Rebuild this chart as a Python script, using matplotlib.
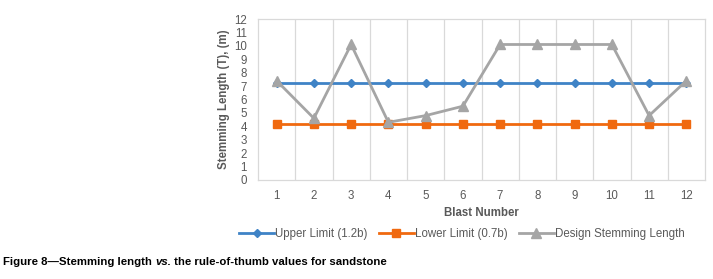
import matplotlib.pyplot as plt

plt.rcParams['font.family'] = ['Liberation Sans', 'DejaVu Sans']

blasts = list(range(1, 13))
upper_limit = [7.2] * 12
lower_limit = [4.2] * 12
design_length = [7.4, 4.6, 10.1, 4.3, 4.8, 5.5, 10.1, 10.1, 10.1, 10.1, 4.8, 7.4]

text_col = '#595959'
grid_col = '#d9d9d9'

fig = plt.figure(figsize=(7.13, 2.79), dpi=100)
ax = fig.add_axes([258 / 713, 1 - 180 / 279, 447 / 713, 161 / 279])

ax.plot(blasts, upper_limit, '-D', color='#3f83c6', lw=2, ms=4,
        label='Upper Limit (1.2b)', zorder=3)
ax.plot(blasts, lower_limit, '-s', color='#f0690f', lw=2, ms=5.5,
        label='Lower Limit (0.7b)', zorder=3)
ax.plot(blasts, design_length, '-^', color='#a5a5a5', lw=2, ms=6.5,
        label='Design Stemming Length', zorder=4)

ax.set_xlim(0.5, 12.5)
ax.set_ylim(0, 12)
ax.set_yticks(range(0, 13))
ax.set_xticks(blasts)
# category boundaries as vertical gridlines
for b in blasts[:-1]:
    ax.axvline(b + 0.5, color=grid_col, lw=0.9, zorder=0)

for s in ax.spines.values():
    s.set_color(grid_col)
    s.set_linewidth(0.9)
ax.tick_params(length=0, labelsize=8.3, colors=text_col, pad=7)
ax.tick_params(axis='y', pad=8)

ax.set_xlabel('Blast Number', fontsize=8.3, fontweight='bold', color=text_col, labelpad=4)
ax.set_ylabel('Stemming Length (T), (m)', fontsize=8.3, fontweight='bold', color=text_col, labelpad=3)

leg = fig.legend(loc='center', bbox_to_anchor=(462 / 713, 1 - 234 / 279), ncol=3,
                 frameon=False, fontsize=8.3, handlelength=3.0, handletextpad=0.1,
                 columnspacing=1.0)
for t in leg.get_texts():
    t.set_color(text_col)

# caption, with "vs." in italic
t1 = fig.text(3 / 713, 1 - 262 / 279, 'Figure 8\u2014Stemming length ', fontsize=8.2,
              fontweight='bold', va='center')
t2 = ax.annotate('vs.', xy=(1, 0), xycoords=t1, va='bottom', fontsize=8.2,
                 fontweight='bold', style='italic')
ax.annotate(' the rule-of-thumb values for sandstone', xy=(1, 0), xycoords=t2,
            va='bottom', fontsize=8.2, fontweight='bold')

fig.savefig('out.png', dpi=100)
